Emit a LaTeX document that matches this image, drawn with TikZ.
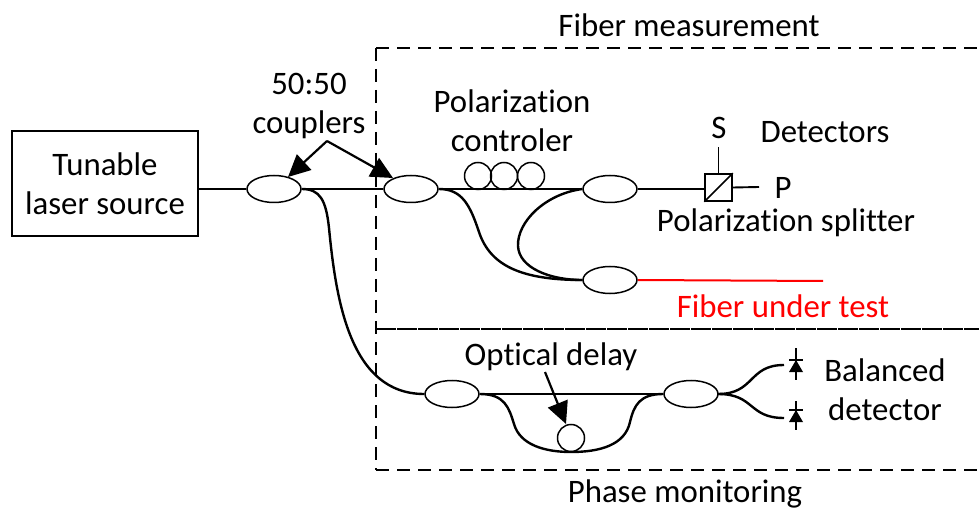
\documentclass[tikz,border=0pt]{standalone}
\usepackage{fontspec}
\setmainfont[RawFeature={-liga}]{Carlito}
\usetikzlibrary{arrows.meta,shapes.geometric}
\tikzset{
  fiber/.style={line width=2.4pt,black},
  coupler/.style={draw,ellipse,line width=1.5pt,fill=white,minimum width=54pt,minimum height=27pt,inner sep=0pt},
  loopc/.style={draw,circle,line width=1.5pt,minimum size=27pt,inner sep=0pt},
  pointer/.style={line width=2.2pt,-{Triangle[length=22pt,width=21pt]}},
  lbl/.style={font=\fontsize{32.8}{39}\selectfont,align=center,inner sep=0pt},
  frame/.style={line width=1.5pt,dash pattern=on 13pt off 8pt},
  midline/.style={line width=1.3pt,dash pattern=on 19.5pt off 1.5pt}
}
\begin{document}
\begin{tikzpicture}[x=1pt,y=-1pt]
\useasboundingbox (0,0) rectangle (979,510);
% frames
\coordinate (fr1) at (979,48);
\coordinate (fr2) at (376,48);
\coordinate (fr3) at (376,470);
\coordinate (fr4) at (979,470);
\coordinate (ml) at (376,329);
\coordinate (mr) at (979,329);
\draw[frame] (fr2) -- (fr1);
\draw[frame] (fr2) -- (fr3);
\draw[frame] (fr3) -- (fr4);
\draw[midline] (ml) -- (mr);
% nodes
\node[draw,line width=1.5pt,minimum width=186pt,minimum height=105pt,lbl] (laser) at (105,183.5) {Tunable\\laser source};
\node[coupler] (c1) at (274,189) {};
\node[coupler] (c2) at (411,189) {};
\node[coupler] (c3) at (610,189) {};
\node[coupler] (c4) at (610,280) {};
\node[coupler] (c5) at (452,394) {};
\node[coupler] (c6) at (691,394) {};
\node[loopc] (p1) at (478,176) {};
\node[loopc] (p2) at (504,176) {};
\node[loopc] (p3) at (531,176) {};
\node[loopc] (d1) at (571,438) {};
\node[draw,line width=1.5pt,minimum size=27pt,inner sep=0pt] (split) at (718.5,187.5) {};
\draw[line width=1.6pt] (split.south west) -- (split.north east);
% connectors
\draw[fiber] (laser.east |- c1.west) -- (c1.west);
\draw[fiber] (c1.east) -- (c2.west);
\draw[fiber] (c2.east) -- (c3.west);
\draw[fiber] (c3.east) -- (split.west |- c3.east);
\draw[fiber] (c1.east) .. controls (320,189) and (326,200) .. (329,228) .. controls (336,300) and (350,394) .. (c5.west);
\draw[fiber] (c2.east) .. controls (462,189) and (470,205) .. (479,232) .. controls (490,265) and (520,280) .. (c4.west);
\draw[fiber] (c3.west) .. controls (545,194) and (517,222) .. (518,246) .. controls (519,268) and (550,280) .. (c4.west);
\draw[fiber] (c5.east) -- (c6.west);
\draw[fiber] (c5.east) .. controls (505,394) and (509,408) .. (514,424) .. controls (520,445) and (545,452) .. (571,452) .. controls (600,452) and (625,445) .. (630,422) .. controls (634,405) and (640,394) .. (c6.west);
\coordinate (s1) at (718.5,147);
\coordinate (pend) at (759,187);
\draw[line width=1.9pt] (split.north) -- (s1);
\draw[line width=1.9pt] (split.east) -- (pend);
\draw[line width=2pt,red] (c4.east) -- (823,281);
% detectors
\coordinate (e1) at (784,365);
\coordinate (e2) at (784,418);
\coordinate (eo) at (718,394);
\draw[fiber] (eo) .. controls (755,394) and (748,365) .. (e1);
\draw[fiber] (eo) .. controls (755,394) and (748,418) .. (e2);
\draw[line width=1.8pt] (796,348) -- (796,380);
\draw[line width=1.8pt] (789,360) -- (803,360);
\fill (789,372) -- (803,372) -- (796,360) -- cycle;
\draw[line width=1.8pt] (796,401) -- (796,430);
\draw[line width=1.8pt] (789,410) -- (803,410);
\fill (789,422) -- (803,422) -- (796,410) -- cycle;
% pointers
\coordinate (ap) at (327,141);
\draw[pointer] (ap) -- (288,177);
\draw[pointer] (ap) -- (393,178);
\coordinate (od) at (545,372);
\draw[pointer] (od) -- (566,424);
% labels
\node[lbl] at (689,25) {Fiber measurement};
\node[lbl] at (309,106.5) {50:50\\couplers};
\node[lbl] at (512,121) {Polarization\\controler};
\node[lbl] at (719,128) {S};
\node[lbl] at (825,132) {Detectors};
\node[lbl] at (783,188) {P};
\node[lbl] at (786,222.5) {Polarization splitter};
\node[lbl,red] at (783,306) {Fiber under test};
\node[lbl] at (551,356.5) {Optical delay};
\node[lbl] at (885,390) {Balanced\\detector};
\node[lbl] at (685,494) {Phase monitoring};
\end{tikzpicture}
\end{document}
